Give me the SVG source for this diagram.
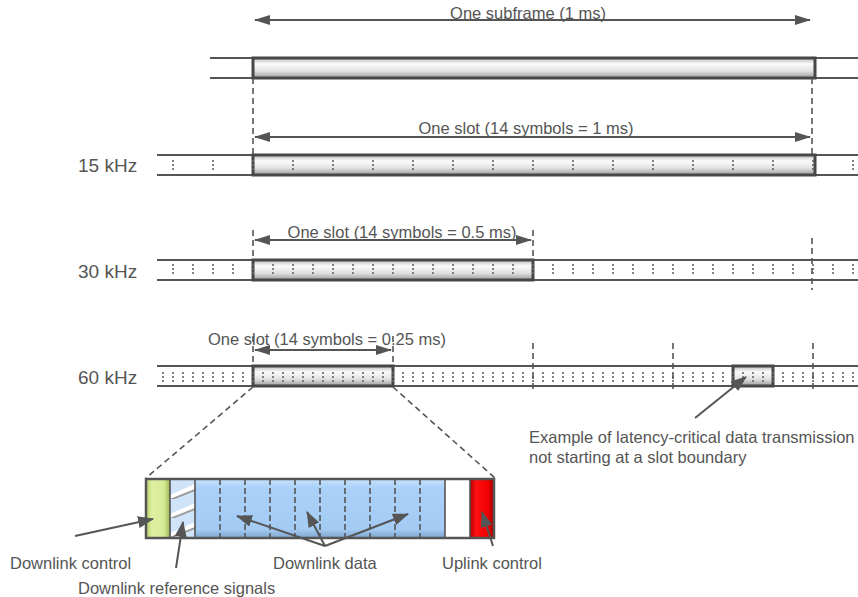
<svg xmlns="http://www.w3.org/2000/svg" width="858" height="597" viewBox="0 0 858 597">
<style>
text{font-family:"Liberation Sans",Arial,sans-serif;fill:#555;font-size:16.5px}
.lbl{font-size:19px}
.row{stroke:#555;stroke-width:2;fill:none}
.bar{fill:url(#barG);stroke:#474747;stroke-width:3}
.dash{stroke:#555;stroke-width:1.6;stroke-dasharray:6 4;fill:none}
.dim{stroke:#555;stroke-width:2;fill:none;marker-start:url(#dh);marker-end:url(#dh)}
.ptr{stroke:#555;stroke-width:2;fill:none;marker-end:url(#ph)}
.div{stroke:#555;stroke-width:1.6;fill:none}
.ddiv{stroke:#555;stroke-width:1.6;stroke-dasharray:6 3;fill:none}
</style>
<defs>
<linearGradient id="barG" x1="0" y1="0" x2="0" y2="1">
<stop offset="0" stop-color="#bdbdbd"/>
<stop offset="0.3" stop-color="#fbfbfb"/>
<stop offset="0.65" stop-color="#e2e2e2"/>
<stop offset="1" stop-color="#9a9a9a"/>
</linearGradient>
<linearGradient id="greenG" x1="0" y1="0" x2="1" y2="0">
<stop offset="0" stop-color="#b7cf6a"/>
<stop offset="0.25" stop-color="#dff0a0"/>
<stop offset="0.75" stop-color="#d6ec96"/>
<stop offset="1" stop-color="#9fb656"/>
</linearGradient>
<linearGradient id="blueG" x1="0" y1="0" x2="0" y2="1">
<stop offset="0" stop-color="#c9e2fb"/>
<stop offset="0.15" stop-color="#a9d1f9"/>
<stop offset="0.85" stop-color="#a3cbf3"/>
<stop offset="1" stop-color="#7ea6cf"/>
</linearGradient>
<linearGradient id="redG" x1="0" y1="0" x2="1" y2="0">
<stop offset="0" stop-color="#b00000"/>
<stop offset="0.25" stop-color="#ff1010"/>
<stop offset="0.75" stop-color="#f00000"/>
<stop offset="1" stop-color="#a00000"/>
</linearGradient>
<pattern id="hatch" patternUnits="userSpaceOnUse" x="170" y="480" width="25" height="19">
<rect width="25" height="19" fill="#cfe4f8"/>
<path d="M0 15 L25 4 L25 9 L0 19 Z" fill="#ffffff"/>
<path d="M0 19 L25 9 L25 11 L0 21 Z" fill="#9a9a9a"/>
</pattern>
<pattern id="t15" patternUnits="userSpaceOnUse" x="233" y="0" width="40" height="597">
<line x1="20" y1="0" x2="20" y2="597" stroke="#666" stroke-width="1.6" stroke-dasharray="2 2"/>
</pattern>
<pattern id="t30" patternUnits="userSpaceOnUse" x="243" y="0" width="20" height="597">
<line x1="10" y1="0" x2="10" y2="597" stroke="#666" stroke-width="1.6" stroke-dasharray="2 2"/>
</pattern>
<pattern id="t60" patternUnits="userSpaceOnUse" x="248" y="0" width="10" height="597">
<line x1="5" y1="0" x2="5" y2="597" stroke="#666" stroke-width="1.6" stroke-dasharray="2 2"/>
</pattern>
<marker id="dh" viewBox="0 0 16 10" refX="15" refY="5" markerWidth="16" markerHeight="10" markerUnits="userSpaceOnUse" orient="auto-start-reverse">
<path d="M0 0 L16 5 L0 10 Z" fill="#555"/>
</marker>
<marker id="ph" viewBox="0 0 16 12" refX="15" refY="6" markerWidth="16" markerHeight="12" markerUnits="userSpaceOnUse" orient="auto">
<path d="M0 0 L16 6 L0 12 Z" fill="#555"/>
</marker>
</defs>

<g id="subframe">
<path class="row" d="M210 58 H858 M210 78 H858"/>
<rect class="bar" x="253" y="58" width="562" height="20"/>
</g>

<g id="row15">
<text class="lbl" x="78" y="172">15 kHz</text>
<path class="row" d="M157 155 H858 M157 175 H858"/>
<rect class="bar" x="253" y="155" width="562" height="20"/>
<rect x="160" y="159" width="698" height="12" fill="url(#t15)"/>
</g>

<g id="row30">
<text class="lbl" x="78" y="278">30 kHz</text>
<path class="row" d="M157 260 H858 M157 280 H858"/>
<rect class="bar" x="253" y="260" width="280" height="20"/>
<rect x="160" y="264" width="698" height="12" fill="url(#t30)"/>
</g>

<g id="row60">
<text class="lbl" x="78" y="384">60 kHz</text>
<path class="row" d="M157 366 H858 M157 386 H858"/>
<rect class="bar" x="253" y="366" width="140" height="20"/>
<rect class="bar" x="733" y="366" width="40" height="20"/>
<rect x="160" y="370" width="698" height="12" fill="url(#t60)"/>
</g>

<g id="slot-detail">
<rect x="146" y="479" width="24" height="59" fill="url(#greenG)"/>
<rect x="170" y="479" width="25" height="59" fill="url(#hatch)"/>
<rect x="195" y="479" width="250" height="59" fill="url(#blueG)"/>
<rect x="445" y="479" width="25" height="59" fill="#ffffff"/>
<rect x="470" y="479" width="24" height="59" fill="url(#redG)"/>
<path class="ddiv" d="M220 479V538M245 479V538M270 479V538M295 479V538M320 479V538M345 479V538M370 479V538M395 479V538M420 479V538"/>
<path class="div" d="M170 479V538M195 479V538M445 479V538M470 479V538"/>
<rect x="146" y="479" width="348" height="59" fill="none" stroke="#555" stroke-width="2.5"/>
</g>

<g id="connectors">
<path class="dim" d="M255 20 H810"/>
<path class="dim" d="M255 137 H810"/>
<path class="dim" d="M255 240 H531"/>
<path class="dim" d="M255 350 H391"/>
<path class="dash" d="M253 78 V155 M812 78 V155"/>
<path class="dash" d="M253 230 V260 M533 230 V260 M812 238 V290"/>
<path class="dash" d="M253 336 V366 M393 336 V366 M533 343 V392 M673 343 V392 M813 343 V392"/>
<path class="dash" d="M253 387 L146 478 M393 387 L495 478"/>
<path class="ptr" d="M75 536 L153 519"/>
<path class="ptr" d="M176 568 L183 522"/>
<path class="ptr" d="M325 546 L237 516"/>
<path class="ptr" d="M325 546 L307 512"/>
<path class="ptr" d="M325 546 L408 514"/>
<path class="ptr" d="M493 546 L482 512"/>
<path class="ptr" d="M695 418 L746 377"/>
</g>

<g id="labels">
<text x="528" y="19" text-anchor="middle">One subframe (1 ms)</text>
<text x="526" y="134" text-anchor="middle">One slot (14 symbols = 1 ms)</text>
<text x="402" y="238" text-anchor="middle">One slot (14 symbols = 0.5 ms)</text>
<text x="327" y="345" text-anchor="middle">One slot (14 symbols = 0.25 ms)</text>
<text x="529" y="443">Example of latency-critical data transmission</text>
<text x="529" y="463">not starting at a slot boundary</text>
<text x="10" y="569">Downlink control</text>
<text x="78" y="594">Downlink reference signals</text>
<text x="273" y="569">Downlink data</text>
<text x="442" y="569">Uplink control</text>
</g>
</svg>
